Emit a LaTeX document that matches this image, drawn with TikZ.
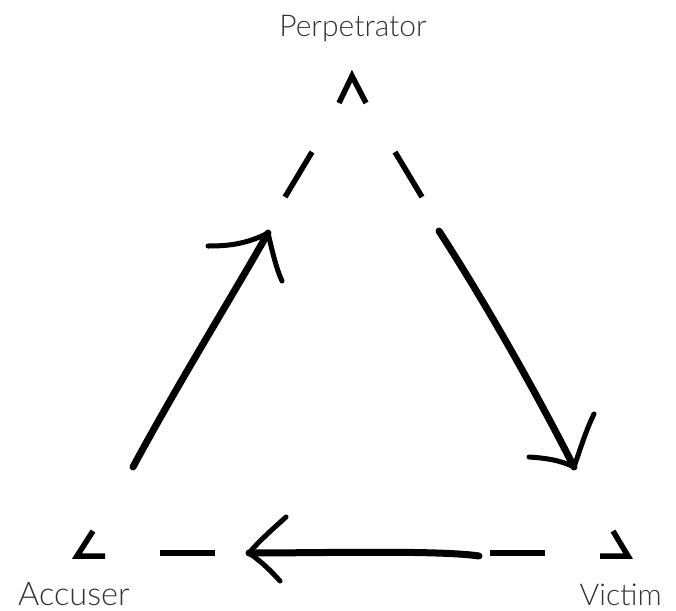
\documentclass[tikz,border=0pt]{standalone}
\usepackage{fontspec}
\setmainfont{Lato Light}
\begin{document}
\begin{tikzpicture}[x=1pt,y=-1pt,
  lbl/.style={inner sep=0pt,text=black!80,font=\fontsize{30}{32}\selectfont},
  dashseg/.style={line width=5.5pt,line cap=butt,black},
  brush/.style={line width=7pt,line cap=round,line join=round,black},
  barb/.style={line width=5pt,line cap=round,black}]
\useasboundingbox (0,0) rectangle (676,610);
% labels
\node[lbl,anchor=base] (perp) at (353,37) {Perpetrator};
\node[lbl,anchor=base west,font=\fontsize{32.5}{34}\selectfont] (acc) at (18,605) {Accuser};
\node[lbl,anchor=base east] (vic) at (662,605) {Victim};
% corner chevrons
\coordinate (t0) at (352,76);
\draw[dashseg,line join=miter] (339,103) -- (t0) -- (366,103);
\coordinate (l0) at (77,556);
\draw[dashseg,line join=miter] (93,531) -- (l0) -- (105,556);
\coordinate (r0) at (628,556);
\draw[dashseg,line join=miter] (613,531) -- (r0) -- (600,556);
% dashes
\draw[dashseg] (285,197) -- (312,152);
\draw[dashseg] (395,152) -- (422,197);
\draw[dashseg] (160,553) -- (215,553);
\draw[dashseg] (490,553) -- (545,553);
% arrows
\coordinate (a1s) at (133,467);
\coordinate (a1t) at (268,233);
\draw[brush] (a1s) .. controls (180,380) and (230,300) .. (a1t);
\draw[barb] (a1t) .. controls (245,245) and (225,246) .. (208,246);
\draw[barb] (a1t) .. controls (272,250) and (276,268) .. (282,281);
\coordinate (a2s) at (439,231);
\coordinate (a2t) at (574,467);
\draw[brush] (a2s) .. controls (490,310) and (540,400) .. (a2t);
\draw[barb] (a2t) .. controls (560,460) and (545,458) .. (529,457);
\draw[barb] (a2t) .. controls (580,450) and (586,430) .. (594,414);
\coordinate (a3s) at (479,556);
\coordinate (a3t) at (249,553);
\draw[brush] (a3s) .. controls (440,550) and (320,553) .. (a3t);
\draw[barb] (a3t) .. controls (260,540) and (275,527) .. (286,517);
\draw[barb] (a3t) .. controls (262,562) and (272,572) .. (280,581);
\end{tikzpicture}
\end{document}
